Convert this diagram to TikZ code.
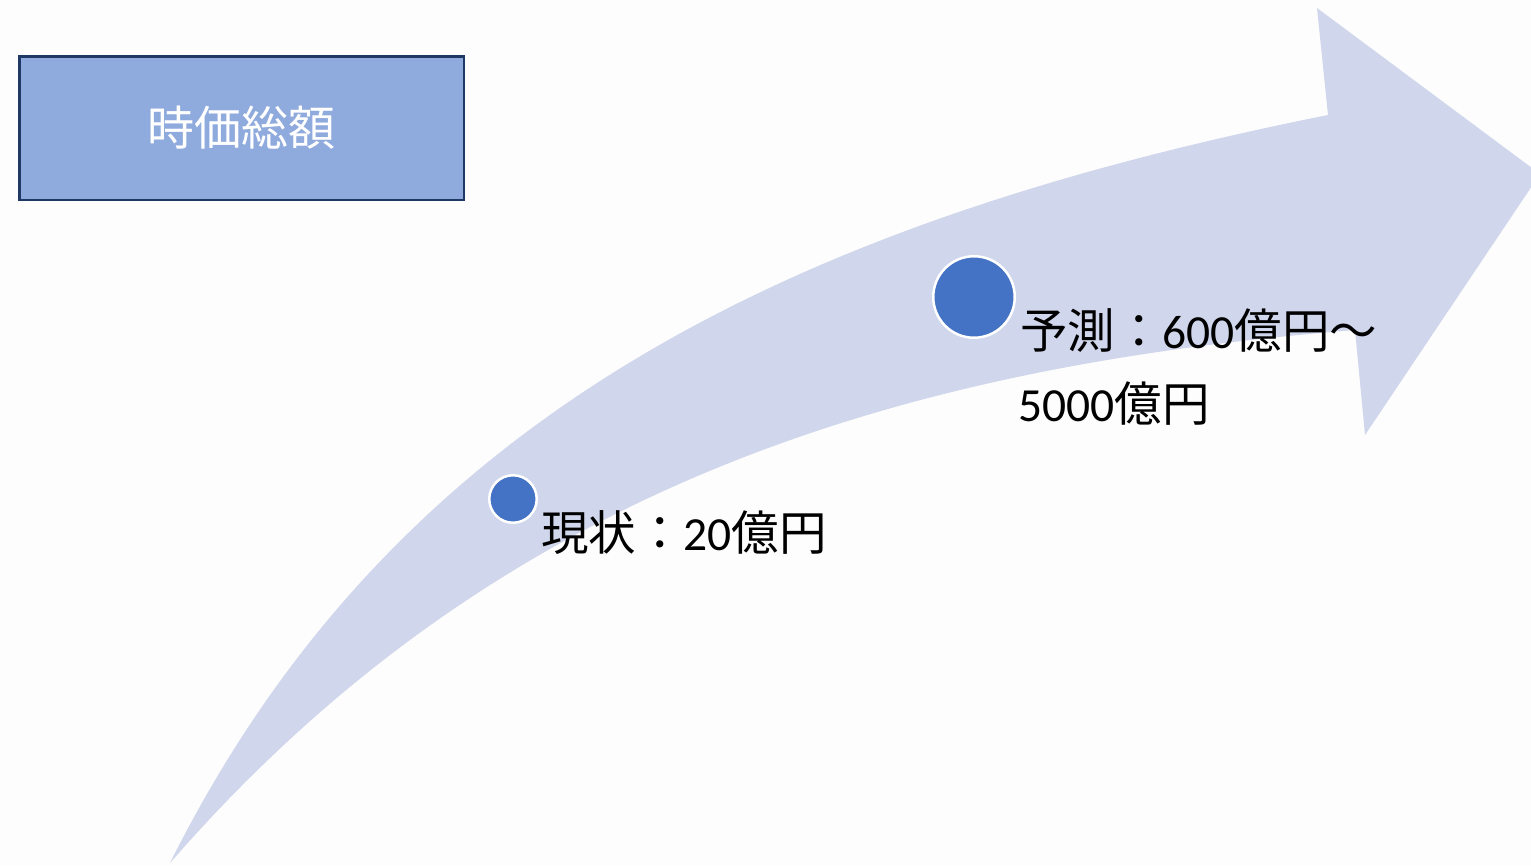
\documentclass[tikz,border=0pt]{standalone}
\usepackage{fontspec}
\setmainfont{Carlito}
\newfontfamily\cjk{Noto Sans CJK JP}
\definecolor{arrowc}{RGB}{208,214,235}
\definecolor{dotc}{RGB}{68,114,196}
\definecolor{boxc}{RGB}{143,170,220}
\definecolor{boxline}{RGB}{32,56,100}
\definecolor{bgc}{RGB}{253,253,253}
\tikzset{
  dotmark/.style={circle, fill=dotc, draw=white, line width=2.5pt, inner sep=0pt},
  valtext/.style={inner sep=0pt, anchor=base west, text=black, font=\fontsize{47.5}{57}\selectfont},
  titlebox/.style={draw=boxline, fill=boxc, line width=2.5pt, inner sep=0pt,
    minimum width=444.5pt, minimum height=143.5pt, text=white,
    font=\cjk\fontsize{47}{56}\selectfont}
}
\begin{document}
\begin{tikzpicture}[x=1pt,y=-1pt]
\useasboundingbox (0,0) rectangle (1531,865);
\fill[bgc] (0,0) rectangle (1531,865);
% curved arrow
\fill[arrowc] (170,863) .. controls (390,423) and (778,225) .. (1328,115)
  -- (1317,8) -- (1540,174) -- (1365,435) -- (1355,330)
  .. controls (905,366) and (500,483.5) .. (170,863) -- cycle;
% title box
\node[titlebox] (title) at (241.5,128) {時価総額};
% markers
\node[dotmark, minimum size=47.5pt] (now) at (513,499) {};
\node[dotmark, minimum size=81.5pt] (future) at (974,297) {};
% labels
\node[valtext] (nowtext) at (541,550) {{\cjk 現状：}20{\cjk 億円}};
\node[valtext] (futtext1) at (1020,348) {{\cjk 予測：}600{\cjk 億円〜}};
\node[valtext] (futtext2) at (1018,421) {5000{\cjk 億円}};
\end{tikzpicture}
\end{document}
